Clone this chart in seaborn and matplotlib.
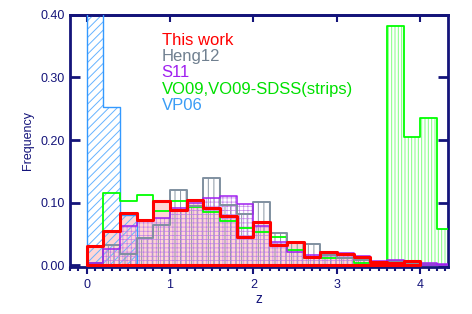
import numpy as np
import pandas as pd
import matplotlib
matplotlib.use("Agg")
import matplotlib.pyplot as plt
from matplotlib.colors import to_rgba
from matplotlib.ticker import MultipleLocator, FormatStrFormatter
import seaborn as sns

# redshift bins, width 0.2
z_edges = [round(0.2 * i, 2) for i in range(23)]

# frequency per bin
this_work = [0.031, 0.055, 0.084, 0.073, 0.102, 0.088, 0.104, 0.091, 0.078, 0.046,
             0.069, 0.033, 0.037, 0.014, 0.022, 0.018, 0.014, 0.005, 0.004, 0.007]
heng12 = [0.004, 0.033, 0.018, 0.044, 0.065, 0.120, 0.095, 0.139, 0.096, 0.082,
          0.101, 0.051, 0.035, 0.034, 0.017, 0.012, 0.008, 0.004, 0.007, 0.004, 0.002, 0.001]
s11 = [0.004, 0.026, 0.063, 0.070, 0.075, 0.091, 0.099, 0.107, 0.110, 0.098,
       0.063, 0.038, 0.022, 0.017, 0.021, 0.019, 0.015, 0.007, 0.009, 0.006, 0.0035, 0.002]
vo09 = [0.002, 0.115, 0.103, 0.112, 0.087, 0.103, 0.093, 0.085, 0.071, 0.059,
        0.053, 0.046, 0.025, 0.012, 0.011, 0.012, 0.003, 0.001, 0.382, 0.205, 0.235, 0.058]
vp06 = [0.45, 0.253, 0.08]
strips_start = 18  # VO09-SDSS strips begin at z = 3.6

labels = ["This work", "Heng12", "S11", "VO09,VO09-SDSS(strips)", "VP06"]
text_colors = ["#ff0000", "#708090", "#a020f0", "#00e000", "#3a9cf5"]

navy = "#14147a"

sns.set_theme(style="ticks")
plt.rcParams["font.family"] = ["Liberation Sans", "DejaVu Sans"]


def to_df(values, start=0):
    bins = z_edges[start:len(values) + 1]
    centers = [(a + b) / 2 for a, b in zip(bins[:-1], bins[1:])]
    df = pd.DataFrame({"z": centers, "freq": values[start:]})
    return df, bins


def draw(ax, values, edge, hatch_col, hatch, lw, z, hlw=0.7, hatch_start=0):
    if hatch:
        dfh, binsh = to_df(values, hatch_start)
        with plt.rc_context({"hatch.color": hatch_col, "hatch.linewidth": hlw}):
            sns.histplot(data=dfh, x="z", weights="freq", bins=binsh, element="step", fill=True,
                         color=hatch_col, facecolor="none", edgecolor=hatch_col, linewidth=0,
                         hatch=hatch, ax=ax, zorder=z)
    df, bins = to_df(values)
    sns.histplot(data=df, x="z", weights="freq", bins=bins, element="step", fill=True,
                 color=edge, facecolor="none", edgecolor=edge, linewidth=lw, ax=ax, zorder=z + 5)


fig = plt.figure(figsize=(4.72, 3.14), dpi=100)
ax = fig.add_axes([0.148, 0.151, 0.801, 0.802])

# pink fill under this work
df_tw, bins_tw = to_df(this_work)
sns.histplot(data=df_tw, x="z", weights="freq", bins=bins_tw,
             element="step", fill=True, color="#ff0000", facecolor=to_rgba("#ff0000", 0.16),
             edgecolor="none", linewidth=0, ax=ax, zorder=1)

draw(ax, vp06, "#3399ff", "#66b3ff", "////", 1.0, 2)
draw(ax, vo09, "#00ff00", "#80ff80", "|||||", 1.3, 3, hatch_start=strips_start)
draw(ax, heng12, "#8090a0", "#8a96a3", "|||", 1.4, 4)
draw(ax, s11, "#a020f0", "#c080e8", "++++", 1.1, 5, hlw=0.5)
draw(ax, this_work, "#ff0000", "#ff0000", None, 2.2, 6)

ax.set_xlim(-0.2, 4.33)
ax.set_ylim(-0.002, 0.40)
ax.set_xticks([0, 1, 2, 3, 4])
ax.xaxis.set_minor_locator(MultipleLocator(0.1))
ax.set_yticks([0, 0.1, 0.2, 0.3, 0.4])
ax.yaxis.set_major_formatter(FormatStrFormatter("%.2f"))

ax.tick_params(axis="x", which="major", direction="out", length=5, width=1.5,
               color=navy, labelcolor=navy, labelsize=9, pad=4)
ax.tick_params(axis="x", which="minor", direction="out", length=3, width=1.5, color=navy)
ax.tick_params(axis="y", direction="in", length=7, width=2, left=True, right=True,
               color=navy, labelcolor=navy, labelsize=9)

secax = ax.secondary_xaxis("top")
secax.set_xticks([0, 1, 2, 3, 4])
secax.tick_params(direction="in", length=5, width=1.5, color=navy, labeltop=False)
secax.spines["top"].set_color(navy)
secax.spines["top"].set_linewidth(2)

for s in ax.spines.values():
    s.set_color(navy)
    s.set_linewidth(2)

ax.set_xlabel("z", color=navy, fontsize=10, labelpad=1)
ax.set_ylabel("Frequency", color=navy, fontsize=9, labelpad=5)

ys = [0.880, 0.816, 0.751, 0.685, 0.621]
for lab, c, y in zip(labels, text_colors, ys):
    ax.text(0.243, y, lab, transform=ax.transAxes, color=c, fontsize=12,
            va="baseline", ha="left", zorder=20)

fig.savefig("out.png", dpi=100)
